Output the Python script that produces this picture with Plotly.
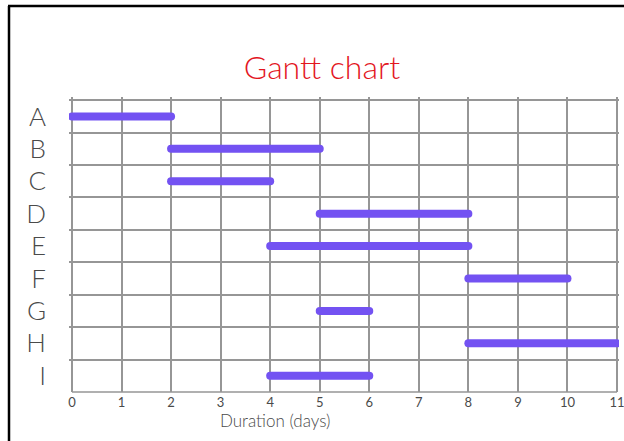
import plotly.graph_objects as go

tasks = ["A", "B", "C", "D", "E", "F", "G", "H", "I"]
start_day = [0, 2, 2, 5, 4, 8, 5, 8, 4]
end_day = [2, 5, 4, 8, 8, 10, 6, 11, 6]
x_ticks = list(range(0, 12))

BAR = "#7352f2"
GRID = "#969696"
TXT = "#4a4a4a"

fig = go.Figure()
for i, (t, s, e) in enumerate(zip(tasks, start_day, end_day)):
    fig.add_trace(go.Scatter(
        x=[s, e], y=[i, i], mode="lines",
        line=dict(color=BAR, width=8), showlegend=False, hoverinfo="skip"))

W, H = 624, 441
L, R, T, B = 69, 5, 97, 49
pw, ph = W - L - R, H - T - B

def px(x):
    return (x - L) / pw

def py(y):
    return (H - B - y) / ph

fig.update_layout(
    width=W, height=H,
    margin=dict(l=L, r=R, t=T, b=B, autoexpand=False),
    paper_bgcolor="white", plot_bgcolor="white",
    title=dict(text="Gantt chart", x=px(322), xanchor="center", xref="paper",
               y=1 - 68 / H, yanchor="middle",
               font=dict(family="Lato, Open Sans, sans-serif", size=32, color="#e3161e", weight=300)),
    xaxis=dict(range=[-0.06, 11.04], tickvals=x_ticks, ticktext=[str(v) for v in x_ticks],
               showgrid=True, gridcolor=GRID, gridwidth=1.6, zeroline=False,
               showline=False, ticks="", ticklabelstandoff=1, ticklabeloverflow="allow",
               tickfont=dict(family="Lato, sans-serif", size=13, color=TXT)),
    yaxis=dict(range=[8.5, -0.6], tickvals=list(range(len(tasks))), ticktext=tasks,
               showgrid=False, zeroline=False, ticks="", ticklabelstandoff=22,
               tickfont=dict(family="Lato, sans-serif", size=26, color=TXT, weight=300),
               minor=dict(tick0=0.5, dtick=1, ticks="", showgrid=True,
                          gridcolor=GRID, gridwidth=1.6)),
    annotations=[dict(text="Duration (days)", xref="paper", yref="paper",
                      x=px(275), y=py(420), xanchor="center", yanchor="middle",
                      showarrow=False,
                      font=dict(family="Lato, sans-serif", size=17, color=TXT, weight=300))],
    shapes=[
        dict(type="line", xref="paper", yref="paper", x0=px(8), x1=px(624), y0=py(6), y1=py(6),
             line=dict(color="black", width=2.5)),
        dict(type="line", xref="paper", yref="paper", x0=px(9), x1=px(9), y0=py(6), y1=py(441),
             line=dict(color="black", width=2.5)),
        dict(type="line", xref="x", yref="paper", x0=0, x1=11, y0=0, y1=0,
             line=dict(color=GRID, width=1.6), layer="below"),
    ],
)

post = """
document.body.style.margin='0';
document.body.style.padding='0';
document.querySelectorAll('.scatterlayer path.js-line').forEach(function(p){p.style.strokeLinecap='round';});
"""

fig.write_html("out.html", post_script=post, config={"displayModeBar": False})
